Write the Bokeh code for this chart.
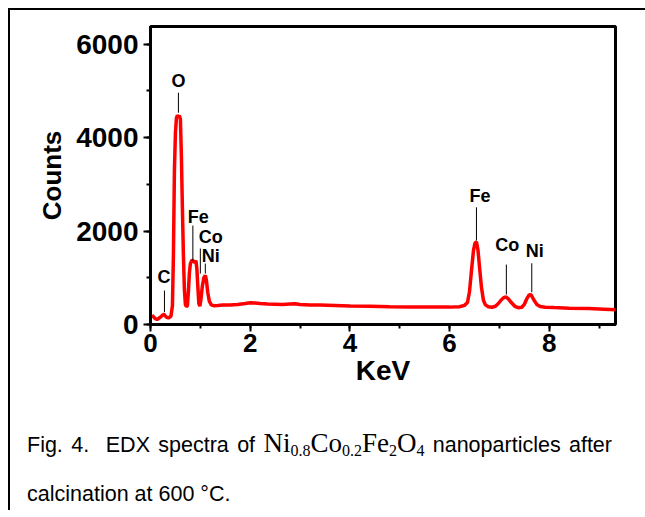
from bokeh.plotting import figure
from bokeh.models import ColumnDataSource, SingleIntervalTicker, Range1d, Div
from bokeh.layouts import column
from bokeh.core.properties import value
from bokeh.embed import file_html
from bokeh.resources import INLINE

# EDX spectrum (energy in keV, counts)
energy_kev = [0.03, 0.08, 0.13, 0.19, 0.24, 0.27, 0.31, 0.36, 0.41, 0.44, 0.46, 0.48,
              0.50, 0.52, 0.54, 0.56, 0.58, 0.60, 0.62, 0.64, 0.66, 0.68, 0.70, 0.72,
              0.74, 0.76, 0.78, 0.80, 0.83, 0.86, 0.89, 0.91, 0.93, 0.95, 0.97, 0.99,
              1.01, 1.04, 1.07, 1.10, 1.12, 1.15, 1.18, 1.22, 1.28, 1.35, 1.45, 1.60,
              1.75, 1.90, 2.00, 2.10, 2.20, 2.35, 2.50, 2.65, 2.80, 2.90, 3.00, 3.20,
              3.40, 3.70, 4.00, 4.40, 4.80, 5.20, 5.60, 6.00, 6.20, 6.30, 6.36, 6.40,
              6.44, 6.48, 6.51, 6.54, 6.57, 6.60, 6.64, 6.68, 6.72, 6.78, 6.85, 6.92,
              6.98, 7.04, 7.09, 7.13, 7.18, 7.24, 7.31, 7.38, 7.45, 7.50, 7.55, 7.60,
              7.64, 7.69, 7.75, 7.82, 7.92, 8.10, 8.40, 8.80, 9.10, 9.40]
counts = [200, 140, 105, 150, 200, 220, 165, 140, 175, 400, 1500, 3300,
          4100, 4420, 4480, 4450, 4470, 4400, 3600, 2500, 1500, 750, 430, 385,
          400, 700, 1100, 1300, 1380, 1360, 1330, 1370, 1200, 800, 450, 390,
          520, 820, 1000, 1050, 960, 680, 500, 420, 400, 405, 415, 420,
          430, 450, 465, 460, 450, 440, 435, 430, 440, 445, 430, 420,
          415, 405, 395, 390, 380, 375, 372, 372, 380, 410, 470, 700,
          1150, 1580, 1740, 1770, 1600, 1250, 800, 520, 420, 380, 370, 390,
          450, 530, 575, 590, 550, 470, 390, 360, 370, 430, 550, 640,
          630, 530, 430, 385, 370, 362, 350, 340, 328, 315]

# Peak annotations
peak_names = ["C", "O", "Fe", "Co", "Ni", "Fe", "Co", "Ni"]
name_kev = [0.27, 0.56, 0.96, 1.21, 1.21, 6.61, 7.16, 7.71]
name_counts = [1027, 5219, 2310, 1867, 1476, 2759, 1711, 1568]
marker_kev = [0.28, 0.56, 0.85, 1.00, 1.10, 6.54, 7.14, 7.65]
marker_bottom = [263, 4535, 1369, 1091, 1091, 1797, 642, 691]
marker_top = [727, 4963, 2118, 1626, 1305, 2509, 1283, 1311]

x_ticks_interval = 2
y_ticks_interval = 2000

FONT = "Liberation Sans"

p = figure(width=627, height=390,
           x_range=Range1d(0, 9.33), y_range=Range1d(0, 6380),
           output_backend="svg", toolbar_location=None,
           min_border_left=140, min_border_right=22,
           min_border_top=16, min_border_bottom=76)

p.background_fill_color = "white"
p.border_fill_color = "white"
p.outline_line_color = "black"
p.outline_line_width = 3
p.xgrid.visible = False
p.ygrid.visible = False

spec = ColumnDataSource(dict(x=energy_kev, y=counts))
p.line("x", "y", source=spec, line_color="#ff0000", line_width=3.5)

ann = ColumnDataSource(dict(x=name_kev, y=name_counts, t=peak_names,
                            mx=marker_kev, y0=marker_bottom, y1=marker_top))
p.segment(x0="mx", y0="y0", x1="mx", y1="y1", source=ann,
          line_color="black", line_width=1)
p.text(x="x", y="y", text="t", source=ann, text_font=value(FONT),
       text_font_style="bold", text_font_size="18px", text_color="black",
       text_align="center", text_baseline="middle")

p.xaxis.ticker = SingleIntervalTicker(interval=x_ticks_interval, num_minor_ticks=2)
p.yaxis.ticker = SingleIntervalTicker(interval=y_ticks_interval, num_minor_ticks=2)

for ax in (p.xaxis[0], p.yaxis[0]):
    ax.axis_line_width = 3
    ax.axis_line_color = "black"
    ax.major_tick_line_width = 2
    ax.minor_tick_line_width = 2
    ax.major_tick_out = 7
    ax.major_tick_in = 0
    ax.minor_tick_out = 4
    ax.minor_tick_in = 0
    ax.major_label_text_font = FONT
    ax.major_label_text_font_style = "bold"
    ax.major_label_text_color = "black"
    ax.axis_label_text_font = FONT
    ax.axis_label_text_font_style = "bold"
    ax.axis_label_text_color = "black"

p.xaxis.axis_label = "KeV"
p.xaxis.major_label_text_font_size = "26px"
p.xaxis.axis_label_text_font_size = "28px"
p.xaxis.major_label_standoff = 2
p.xaxis.axis_label_standoff = 0

p.yaxis.axis_label = "Counts"
p.yaxis.major_label_text_font_size = "28px"
p.yaxis.axis_label_text_font_size = "26px"
p.yaxis.major_label_standoff = 5
p.yaxis.axis_label_standoff = 6

sub = "font-size:16px;vertical-align:-4px;line-height:0"
formula = ("<span style=\"font-family:'Liberation Serif';font-size:27px\">"
           f"Ni<sub style='{sub}'>0.8</sub>Co<sub style='{sub}'>0.2</sub>"
           f"Fe<sub style='{sub}'>2</sub>O<sub style='{sub}'>4</sub></span>")
line_style = ("position:absolute;left:12px;width:585px;font-family:'Liberation Sans';"
              "font-size:21.5px;line-height:30px;color:black;")
html = ("<div style='position:relative;width:627px;height:100px;'>"
        f"<div style=\"{line_style}top:23px;text-align:justify;text-align-last:justify;\">"
        f"Fig. 4.&nbsp; EDX spectra of {formula} nanoparticles after</div>"
        f"<div style=\"{line_style}top:74px;text-align:left;\">"
        "calcination at 600 °C.</div></div>")
caption = Div(text=html, width=627, height=100)

layout = column(p, caption, margin=(8, 0, 0, 8),
                styles={"border-left": "2px solid black",
                        "border-top": "2px solid black"})

open("out.html", "w").write(file_html(layout, INLINE))
